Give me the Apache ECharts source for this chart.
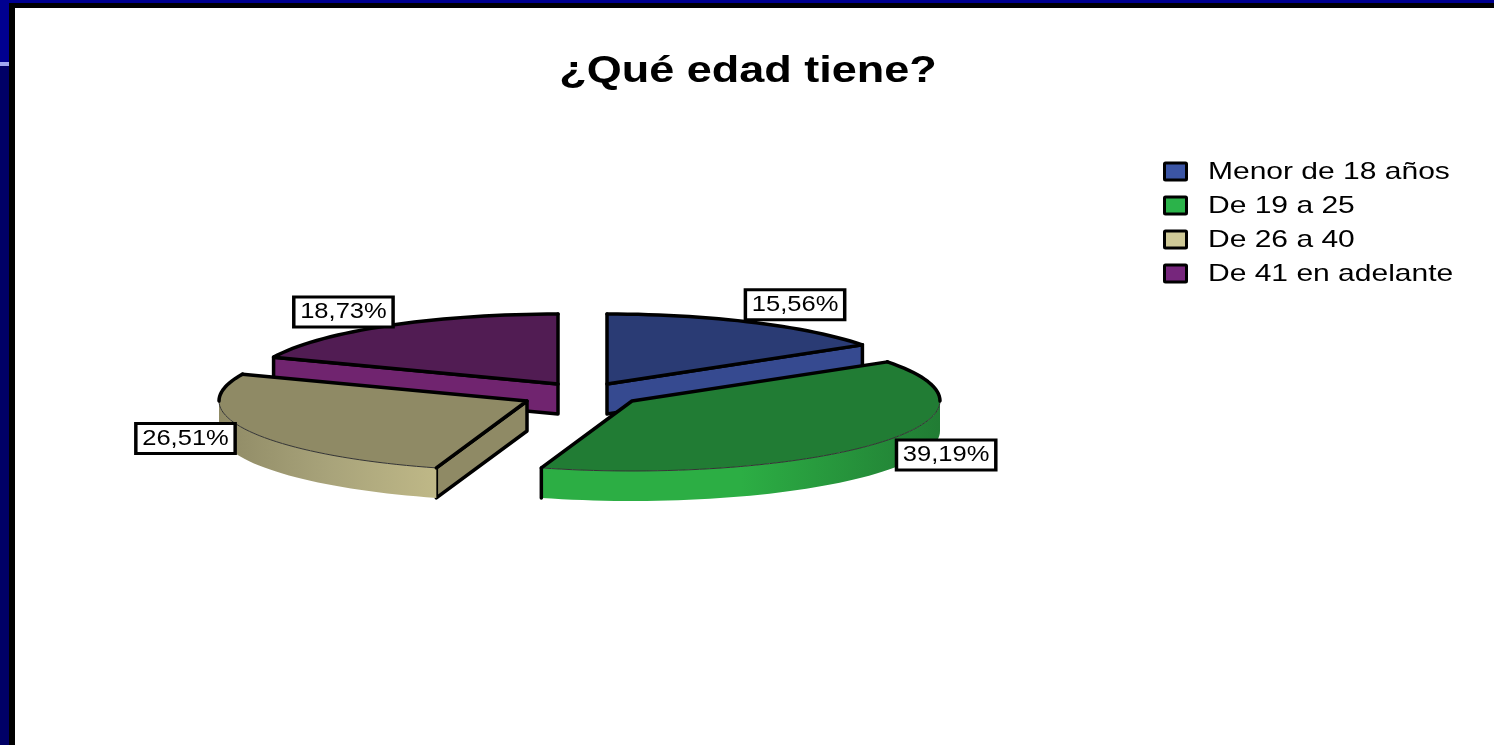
<!doctype html>
<html>
	<head>
		<meta charset="utf-8">
		<title>¿Qué edad tiene?</title>
		<script src="https://cdn.jsdelivr.net/npm/echarts@6/dist/echarts.min.js"></script>
		<style>
			html, body { margin: 0; padding: 0; width: 1494px; height: 745px; overflow: hidden; background: #000090; }
			.black { position: absolute; left: 9px; top: 3px; right: 0; bottom: 0; background: #000; }
			.paper { position: absolute; left: 15px; top: 8px; right: 0; bottom: 0; background: #fff; }
			.band { position: absolute; left: 0; top: 62px; width: 9px; height: 4px; background: #a0a8f0; }
			.side { position: absolute; left: 0; top: 66px; width: 9px; bottom: 0; background: #000066; }
			#main { position: absolute; left: 0; top: 0; width: 1494px; height: 745px; }
		</style>
	</head>
	<body>
		<div class="black"></div>
		<div class="paper"></div>
		<div class="band"></div>
		<div class="side"></div>
		<div id="main"></div>
		<script type="text/javascript">
			var chartTitle = '¿Qué edad tiene?';
			var categories = ['Menor de 18 años', 'De 19 a 25', 'De 26 a 40', 'De 41 en adelante'];
			var percents = [15.56, 39.19, 26.51, 18.73];

			var legendColors = ['#3b55a5', '#2bb34a', '#cfc997', '#76267c'];
			var topColors = ['#2a3b74', '#217c34', '#8f8a65', '#511c53'];
			var faceColors = ['#364a90', '#2bae44', '#8f8a65', '#70246f'];
			// lado frontal de la tarta, de izquierda a derecha
			var wallStops = [null, ['#2cae44', '#2cae44', '#217c34'], ['#8f8a65', '#a8a37a', '#bfb887'], null];

			// geometria de la tarta
			var centerX = 582, centerY = 392, radiusX = 308, radiusY = 70, depth = 30;
			var explodeX = [25, 50, -55, -24];
			var explodeY = [-8, 9, 9, -8];
			var labelFactor = [1.3, 1.27, 1.225, 1.255];
			var layerOf = [1, 5, 5, 1];

			// el original esta estirado en horizontal
			var stretch = 1.25;

			var total = percents.reduce(function(a, b) { return a + b; }, 0);

			function arcPoints(ax, ay, from, to, dy) {
				var pts = [];
				var n = Math.max(2, Math.ceil((to - from) / 2));
				for (var i = 0; i <= n; i++) {
					var d = (from + (to - from) * i / n) * Math.PI / 180;
					pts.push([ax + radiusX * Math.sin(d), ay - radiusY * Math.cos(d) + dy]);
				}
				return pts;
			}

			function stroke(points, width, z2, color) {
				return {
					type: 'polyline',
					z2: z2,
					shape: { points: points },
					style: { stroke: color || '#000', lineWidth: width, fill: null, lineJoin: 'round', lineCap: 'round' }
				};
			}

			function renderSlice(params, api) {
				var i = params.seriesIndex;
				var before = 0;
				for (var k = 0; k < i; k++) before += percents[k];
				var start = before / total * 360;
				var end = start + api.value(0) / total * 360;
				var ax = centerX + explodeX[i];
				var ay = centerY + explodeY[i];
				var z = layerOf[i];
				var kids = [];
				var p0 = arcPoints(ax, ay, start, start, 0)[0];
				var p1 = arcPoints(ax, ay, end, end, 0)[0];

				// caras interiores visibles
				if (start > 180) {
					kids.push({ type: 'polygon', z2: z,
						shape: { points: [p0, [ax, ay], [ax, ay + depth], [p0[0], p0[1] + depth]] },
						style: { fill: faceColors[i], stroke: '#000', lineWidth: 3.5, lineJoin: 'round' } });
				}
				if (end < 180) {
					kids.push({ type: 'polygon', z2: z,
						shape: { points: [[ax, ay], p1, [p1[0], p1[1] + depth], [ax, ay + depth]] },
						style: { fill: faceColors[i], stroke: '#000', lineWidth: 3.5, lineJoin: 'round' } });
				}

				// pared frontal
				var lo = Math.max(start, 90), hi = Math.min(end, 270);
				if (hi > lo && wallStops[i]) {
					var upper = arcPoints(ax, ay, lo, hi, 0);
					var lower = arcPoints(ax, ay, lo, hi, depth).reverse();
					kids.push({ type: 'polygon', z2: z,
						shape: { points: upper.concat(lower) },
						style: { fill: new echarts.graphic.LinearGradient(0, 0, 1, 0, [
							{ offset: 0, color: wallStops[i][0] },
							{ offset: 0.5, color: wallStops[i][1] },
							{ offset: 1, color: wallStops[i][2] }
						]) } });
					if (end > 90 && end < 270) {
						kids.push(stroke([p1, [p1[0], p1[1] + depth]], 3.5, z + 1));
					}
				}

				// cara superior
				var rim = arcPoints(ax, ay, start, end, 0);
				kids.push({ type: 'polygon', z2: z + 1,
					shape: { points: [[ax, ay]].concat(rim) },
					style: { fill: topColors[i] } });

				// borde: grueso por detras, fino por delante
				if (hi > lo) kids.push(stroke(arcPoints(ax, ay, lo, hi, 0), 1, z + 1, '#333'));
				if (start < 90) kids.push(stroke(arcPoints(ax, ay, start, Math.min(end, 90), 0), 3.5, z + 2));
				if (end > 270) kids.push(stroke(arcPoints(ax, ay, Math.max(start, 270), end, 0), 3.5, z + 2));
				kids.push(stroke([p0, [ax, ay], p1], 3.5, z + 2));

				// etiqueta
				var mid = (start + end) / 2 * Math.PI / 180;
				kids.push({
					type: 'text',
					z2: 20,
					x: ax + radiusX * labelFactor[i] * Math.sin(mid),
					y: ay - radiusY * labelFactor[i] * Math.cos(mid) + 1,
					scaleX: 1.16,
					style: {
						text: api.value(0).toFixed(2).replace('.', ',') + '%',
						fontFamily: 'Liberation Sans',
						fontSize: 22,
						fill: '#000',
						align: 'center',
						verticalAlign: 'middle',
						backgroundColor: '#fff',
						borderColor: '#000',
						borderWidth: 3,
						padding: [3, 4, 2, 4]
					}
				});

				return { type: 'group', children: kids };
			}

			// la leyenda se dibuja aqui porque su texto va estirado
			var legendItems = [];
			categories.forEach(function(name, i) {
				var rowY = 171.5 + i * 34;
				legendItems.push({
					type: 'rect',
					shape: { x: 1164.5, y: rowY - 8.5, width: 22, height: 17, r: 1 },
					style: { fill: legendColors[i], stroke: '#000', lineWidth: 3 }
				});
				legendItems.push({
					type: 'text',
					x: 1208,
					y: rowY + 1,
					scaleX: stretch,
					style: {
						text: name,
						fontFamily: 'Liberation Sans',
						fontSize: 24,
						fill: '#000',
						align: 'left',
						verticalAlign: 'middle'
					}
				});
			});

			var chart = echarts.init(document.getElementById('main'));
			chart.setOption({
				animation: false,
				backgroundColor: 'transparent',
				graphic: [{
					type: 'text',
					x: 748,
					y: 72.5,
					scaleX: stretch,
					style: {
						text: chartTitle,
						fontFamily: 'Liberation Sans',
						fontSize: 36,
						fontWeight: 'bold',
						fill: '#000',
						align: 'center',
						verticalAlign: 'middle'
					}
				}, {
					type: 'group',
					children: legendItems
				}],
				series: categories.map(function(name, i) {
					return {
						type: 'custom',
						name: name,
						coordinateSystem: 'none',
						itemStyle: { color: legendColors[i] },
						renderItem: renderSlice,
						data: [percents[i]]
					};
				})
			});
		</script>
	</body>
</html>
